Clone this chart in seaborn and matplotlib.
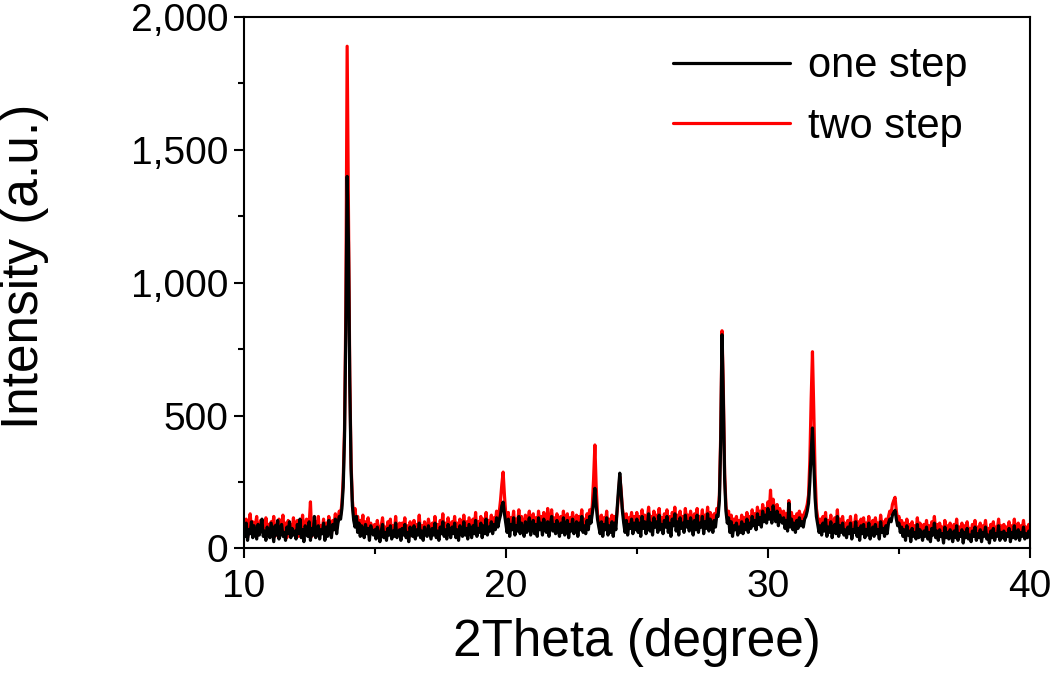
"""XRD patterns of the one-step and two-step samples."""

import matplotlib

matplotlib.use("Agg")
import matplotlib.pyplot as plt
import matplotlib.ticker as mticker
import numpy as np
import pandas as pd
import seaborn as sns

# scan: 10 to 40 degree, 0.05 degree step
SCAN_START = 10.0
SCAN_STEP = 0.05

# intensity, one row per degree (20 steps each)
one_step = [
    80, 45, 95, 30, 70, 55, 100, 40, 85, 60, 35, 90, 50, 75, 110, 45, 65, 30, 80, 55,
    40, 95, 60, 25, 85, 50, 105, 35, 70, 90, 45, 60, 30, 80, 55, 100, 40, 75, 50, 65,
    35, 90, 55, 110, 40, 70, 25, 85, 60, 45, 100, 30, 75, 50, 120, 40, 65, 85, 35, 70,
    55, 95, 30, 80, 45, 105, 60, 40, 90, 70, 110, 55, 95, 120, 110, 150, 230, 420, 820, 1400,
    1150, 620, 300, 160, 105, 80, 120, 60, 95, 45, 85, 70, 40, 90, 55, 75, 30, 85, 60, 50,
    70, 35, 80, 55, 25, 65, 90, 40, 60, 30, 75, 50, 85, 35, 65, 45, 95, 40, 55, 70,
    30, 75, 50, 90, 40, 60, 25, 80, 55, 45, 85, 35, 70, 50, 95, 40, 65, 30, 80, 55,
    45, 85, 60, 35, 75, 50, 95, 40, 65, 30, 80, 55, 100, 45, 70, 35, 90, 60, 40, 80,
    55, 95, 40, 70, 30, 85, 60, 45, 100, 50, 75, 35, 90, 65, 40, 85, 55, 105, 45, 75,
    60, 95, 40, 85, 55, 110, 50, 80, 65, 100, 55, 90, 70, 115, 80, 105, 125, 160, 174, 130,
    95, 60, 110, 45, 90, 70, 115, 50, 85, 65, 120, 55, 95, 75, 45, 100, 60, 85, 115, 50,
    80, 105, 55, 90, 45, 115, 70, 95, 50, 110, 75, 60, 100, 45, 85, 120, 65, 90, 55, 105,
    70, 45, 95, 60, 115, 50, 85, 105, 40, 90, 65, 110, 55, 80, 100, 45, 95, 70, 120, 60,
    85, 55, 105, 70, 120, 95, 130, 170, 226, 160, 110, 80, 55, 100, 45, 90, 70, 115, 50, 85,
    60, 100, 45, 95, 70, 150, 220, 283, 210, 140, 95, 60, 105, 50, 90, 75, 110, 55, 95, 70,
    110, 60, 95, 45, 120, 75, 100, 55, 85, 130, 65, 95, 50, 115, 80, 100, 60, 125, 70, 90,
    55, 105, 80, 120, 60, 95, 45, 110, 85, 130, 65, 100, 50, 115, 75, 95, 60, 125, 80, 100,
    65, 115, 85, 50, 105, 70, 125, 60, 95, 80, 120, 55, 100, 75, 130, 65, 110, 90, 60, 105,
    80, 125, 120, 180, 400, 804, 560, 260, 140, 95, 115, 60, 100, 45, 85, 70, 95, 50, 80, 60,
    100, 55, 90, 70, 110, 60, 95, 75, 120, 85, 105, 70, 130, 90, 115, 80, 140, 100, 125, 95,
    150, 110, 135, 95, 160, 120, 100, 140, 85, 125, 110, 95, 115, 75, 105, 65, 170, 80, 110, 70,
    95, 60, 105, 75, 115, 85, 100, 80, 110, 120, 140, 170, 250, 360, 453, 320, 190, 120, 90, 60,
    85, 50, 95, 65, 110, 45, 80, 60, 100, 40, 75, 90, 55, 120, 45, 85, 60, 95, 50, 70,
    40, 80, 55, 95, 35, 70, 60, 100, 45, 75, 30, 85, 55, 90, 40, 70, 50, 95, 35, 65,
    80, 45, 90, 55, 70, 35, 100, 60, 75, 45, 85, 55, 95, 110, 100, 125, 135, 143, 110, 85,
    95, 60, 80, 45, 70, 30, 85, 50, 65, 25, 75, 45, 60, 35, 90, 40, 70, 55, 30, 65,
    45, 80, 35, 60, 25, 75, 50, 95, 40, 65, 30, 70, 45, 55, 20, 80, 40, 60, 35, 70,
    50, 25, 65, 40, 85, 30, 55, 45, 70, 20, 60, 40, 75, 35, 50, 25, 65, 45, 80, 30,
    55, 40, 70, 25, 60, 45, 80, 35, 50, 20, 65, 40, 75, 30, 55, 45, 85, 30, 60, 40,
    65, 30, 55, 45, 75, 25, 60, 40, 85, 35, 50, 70, 30, 60, 45, 80, 35, 55, 40, 65,
    50,
]

two_step = [
    95, 60, 110, 40, 85, 130, 70, 100, 55, 90, 120, 50, 80, 105, 65, 95, 45, 115, 75, 90,
    55, 100, 75, 120, 45, 90, 65, 110, 50, 85, 125, 60, 95, 40, 105, 70, 90, 55, 115, 80,
    60, 105, 45, 95, 70, 125, 50, 85, 110, 65, 90, 175, 45, 90, 60, 100, 75, 120, 55, 85,
    70, 110, 50, 95, 65, 120, 80, 55, 105, 90, 130, 75, 110, 140, 125, 170, 260, 450, 900, 1890,
    1250, 650, 320, 180, 120, 150, 95, 120, 70, 105, 85, 125, 60, 100, 75, 115, 50, 95, 80, 65,
    90, 55, 105, 70, 40, 85, 115, 60, 80, 50, 100, 65, 110, 45, 85, 60, 120, 55, 75, 95,
    50, 95, 70, 115, 55, 85, 40, 100, 75, 60, 105, 50, 90, 70, 125, 55, 85, 45, 100, 75,
    65, 110, 80, 50, 95, 70, 120, 55, 90, 45, 105, 75, 130, 60, 95, 50, 115, 80, 55, 100,
    75, 120, 55, 95, 45, 110, 80, 60, 125, 70, 100, 50, 115, 85, 55, 110, 75, 135, 60, 100,
    85, 120, 60, 110, 75, 135, 70, 105, 90, 125, 75, 115, 95, 140, 110, 135, 180, 240, 287, 200,
    130, 85, 135, 70, 115, 95, 140, 75, 110, 90, 145, 80, 120, 100, 65, 125, 85, 110, 140, 75,
    105, 130, 80, 115, 70, 140, 95, 120, 75, 135, 100, 85, 150, 70, 110, 145, 90, 115, 80, 130,
    95, 70, 120, 85, 140, 75, 110, 130, 65, 115, 90, 135, 80, 105, 125, 70, 120, 95, 145, 85,
    110, 80, 130, 95, 145, 120, 160, 260, 389, 230, 130, 105, 80, 125, 70, 115, 95, 140, 75, 110,
    85, 125, 70, 120, 95, 140, 200, 270, 220, 150, 120, 85, 130, 75, 115, 100, 135, 80, 120, 95,
    135, 85, 120, 70, 145, 100, 125, 80, 110, 155, 90, 120, 75, 140, 105, 125, 85, 150, 95, 115,
    80, 130, 105, 145, 85, 120, 70, 135, 110, 155, 90, 125, 75, 140, 100, 120, 85, 150, 105, 125,
    90, 140, 110, 75, 130, 95, 150, 85, 120, 105, 145, 80, 125, 100, 155, 90, 135, 115, 85, 130,
    105, 150, 140, 200, 430, 819, 600, 280, 160, 115, 140, 85, 125, 70, 110, 95, 120, 75, 105, 85,
    125, 80, 115, 95, 135, 85, 120, 100, 145, 110, 130, 95, 155, 115, 140, 105, 165, 125, 150, 120,
    175, 135, 219, 120, 185, 145, 125, 165, 110, 150, 135, 120, 140, 100, 130, 90, 180, 105, 135, 95,
    120, 85, 130, 100, 140, 110, 125, 105, 135, 145, 165, 200, 330, 560, 740, 520, 280, 150, 115, 85,
    110, 75, 120, 90, 135, 70, 105, 85, 125, 65, 100, 115, 80, 145, 70, 110, 85, 120, 75, 95,
    65, 105, 80, 120, 60, 95, 85, 125, 70, 100, 55, 110, 80, 115, 65, 95, 75, 120, 60, 90,
    105, 70, 115, 80, 95, 60, 125, 85, 100, 70, 110, 80, 120, 140, 130, 165, 180, 192, 140, 110,
    120, 85, 105, 70, 95, 55, 110, 75, 90, 50, 100, 70, 85, 60, 115, 65, 95, 80, 55, 90,
    70, 105, 60, 85, 50, 100, 75, 120, 65, 90, 55, 95, 70, 80, 45, 105, 65, 85, 60, 95,
    75, 50, 90, 65, 110, 55, 80, 70, 95, 45, 85, 65, 100, 60, 75, 50, 90, 70, 105, 55,
    80, 65, 95, 50, 85, 70, 105, 60, 75, 45, 90, 65, 100, 55, 80, 70, 110, 55, 85, 65,
    90, 55, 80, 70, 100, 50, 85, 65, 110, 60, 75, 95, 55, 85, 70, 105, 60, 80, 65, 90,
    75,
]

labels = ["one step", "two step"]
colors = ["black", "red"]

x_ticks = [10, 20, 30, 40]
y_ticks = [0, 500, 1000, 1500, 2000]


def main() -> None:
    two_theta = SCAN_START + SCAN_STEP * np.arange(len(one_step))
    df = pd.DataFrame({"two_theta": two_theta, "one step": one_step, "two step": two_step})

    sns.set_theme(style="ticks")
    plt.rcParams["font.family"] = ["Liberation Sans", "DejaVu Sans"]

    fig = plt.figure(figsize=(10.5, 6.82), dpi=100)
    ax = fig.add_axes([0.232, 0.196, 0.749, 0.779])

    # red underneath, black on top
    sns.lineplot(data=df, x="two_theta", y="two step", color=colors[1], lw=2.3,
                 label=labels[1], estimator=None, ax=ax)
    sns.lineplot(data=df, x="two_theta", y="one step", color=colors[0], lw=2.3,
                 label=labels[0], estimator=None, ax=ax)

    ax.set_xlim(10, 40)
    ax.set_ylim(0, 2000)
    ax.set_xticks(x_ticks)
    ax.set_yticks(y_ticks)
    ax.xaxis.set_minor_locator(mticker.MultipleLocator(5))
    ax.yaxis.set_minor_locator(mticker.MultipleLocator(250))
    ax.yaxis.set_major_formatter(mticker.StrMethodFormatter("{x:,.0f}"))

    ax.tick_params(axis="both", which="major", direction="out", length=7, width=1.5,
                   labelsize=28, color="black", labelcolor="black")
    ax.tick_params(axis="x", which="major", pad=8)
    ax.tick_params(axis="y", which="major", pad=4)
    ax.tick_params(axis="both", which="minor", direction="out", length=4, width=1.5,
                   color="black")
    for side in ["top", "right", "bottom", "left"]:
        ax.spines[side].set_visible(True)
        ax.spines[side].set_linewidth(1.5)
        ax.spines[side].set_color("black")

    ax.set_xlabel("2Theta (degree)", fontsize=37, color="black", labelpad=9)
    ax.set_ylabel("Intensity (a.u.)", fontsize=37, color="black")
    ax.yaxis.set_label_coords(-0.247, 0.53)

    handles, texts = ax.get_legend_handles_labels()
    leg = ax.legend(handles[::-1], texts[::-1], loc="upper right", frameon=False,
                    fontsize=30, handlelength=2.8, handletextpad=0.45, labelspacing=0.5,
                    borderaxespad=0.3, bbox_to_anchor=(0.958, 1.0))
    for t in leg.get_texts():
        t.set_color("black")

    fig.savefig("out.png", dpi=100)
    plt.close(fig)


if __name__ == "__main__":
    main()
